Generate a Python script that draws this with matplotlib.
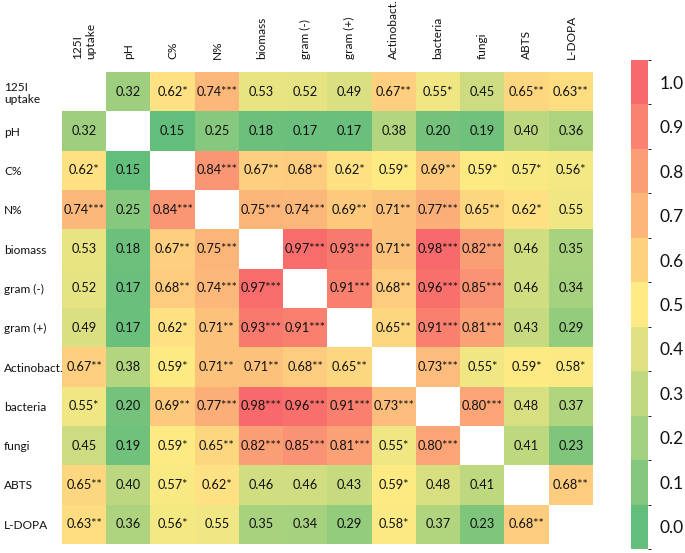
import numpy as np
import matplotlib
matplotlib.use("Agg")
import matplotlib.pyplot as plt
from matplotlib.colors import LinearSegmentedColormap, ListedColormap, BoundaryNorm, TwoSlopeNorm
from matplotlib.cm import ScalarMappable

plt.rcParams['font.family'] = ['Lato', 'DejaVu Sans']

labels = ["125I\nuptake", "pH", "C%", "N%", "biomass", "gram (-)", "gram (+)",
          "Actinobact.", "bacteria", "fungi", "ABTS", "L-DOPA"]

nan = np.nan
values = [
    [nan, .32, .62, .74, .53, .52, .49, .67, .55, .45, .65, .63],
    [.32, nan, .15, .25, .18, .17, .17, .38, .20, .19, .40, .36],
    [.62, .15, nan, .84, .67, .68, .62, .59, .69, .59, .57, .56],
    [.74, .25, .84, nan, .75, .74, .69, .71, .77, .65, .62, .55],
    [.53, .18, .67, .75, nan, .97, .93, .71, .98, .82, .46, .35],
    [.52, .17, .68, .74, .97, nan, .91, .68, .96, .85, .46, .34],
    [.49, .17, .62, .71, .93, .91, nan, .65, .91, .81, .43, .29],
    [.67, .38, .59, .71, .71, .68, .65, nan, .73, .55, .59, .58],
    [.55, .20, .69, .77, .98, .96, .91, .73, nan, .80, .48, .37],
    [.45, .19, .59, .65, .82, .85, .81, .55, .80, nan, .41, .23],
    [.65, .40, .57, .62, .46, .46, .43, .59, .48, .41, nan, .68],
    [.63, .36, .56, .55, .35, .34, .29, .58, .37, .23, .68, nan],
]

stars = [
    [0, 0, 1, 3, 0, 0, 0, 2, 1, 0, 2, 2],
    [0, 0, 0, 0, 0, 0, 0, 0, 0, 0, 0, 0],
    [1, 0, 0, 3, 2, 2, 1, 1, 2, 1, 1, 1],
    [3, 0, 3, 0, 3, 3, 2, 2, 3, 2, 1, 0],
    [0, 0, 2, 3, 0, 3, 3, 2, 3, 3, 0, 0],
    [0, 0, 2, 3, 3, 0, 3, 2, 3, 3, 0, 0],
    [0, 0, 1, 2, 3, 3, 0, 2, 3, 3, 0, 0],
    [2, 0, 1, 2, 2, 2, 2, 0, 3, 1, 1, 1],
    [1, 0, 2, 3, 3, 3, 3, 3, 0, 3, 0, 0],
    [0, 0, 1, 2, 3, 3, 3, 1, 3, 0, 0, 0],
    [2, 0, 1, 1, 0, 0, 0, 1, 0, 0, 0, 2],
    [2, 0, 1, 0, 0, 0, 0, 1, 0, 0, 2, 0],
]

cbar_ticks = [0.0, 0.1, 0.2, 0.3, 0.4, 0.5, 0.6, 0.7, 0.8, 0.9, 1.0]

GREEN, YELLOW, RED = "#63BE7B", "#FFEB84", "#F8696B"
cmap = LinearSegmentedColormap.from_list("excel", [GREEN, YELLOW, RED])
cmap.set_bad("white")

V = np.array(values, dtype=float)
vmin, vmax = np.nanmin(V), np.nanmax(V)
vmid = np.nanpercentile(V, 50)
norm = TwoSlopeNorm(vmin=vmin, vcenter=vmid, vmax=vmax)

W, H = 685, 553
fig = plt.figure(figsize=(W / 100, H / 100), dpi=100)
L, R, T, B = 62, 593, 72, 544
ax = fig.add_axes([L / W, 1 - B / H, (R - L) / W, (B - T) / H])
ax.imshow(np.ma.masked_invalid(V), cmap=cmap, norm=norm, aspect='auto',
          interpolation='nearest')
n = len(labels)
for i in range(n):
    for j in range(n):
        if np.isnan(V[i, j]):
            continue
        ax.text(j, i, f"{V[i, j]:.2f}" + "*" * stars[i][j], ha='center', va='center',
                fontsize=9.2, color='#111111')

for s in ax.spines.values():
    s.set_visible(False)
ax.set_xticks(range(n))
ax.set_yticks(range(n))
ax.xaxis.tick_top()
ax.set_xticklabels(labels, rotation=90, ha='center', va='bottom', fontsize=8.6,
                   multialignment='left', color='#111111')
ax.set_yticklabels(labels, ha='left', fontsize=8.6, multialignment='left',
                   color='#111111')
ax.tick_params(axis='x', length=0, pad=13 * 0.72)
ax.tick_params(axis='y', length=0, pad=(L - 4) * 0.72)

# colorbar
cL, cR, cT, cB = 631, 648, 60, 549
cax = fig.add_axes([cL / W, 1 - cB / H, (cR - cL) / W, (cB - cT) / H])
excel_scale = LinearSegmentedColormap.from_list("excel01", [GREEN, YELLOW, RED])
disc = ListedColormap([excel_scale(t) for t in cbar_ticks])
bounds = np.concatenate([[cbar_ticks[0] - 0.05], np.array(cbar_ticks) + 0.05])
bnorm = BoundaryNorm(bounds, disc.N)
sm = ScalarMappable(norm=bnorm, cmap=disc)
cb = fig.colorbar(sm, cax=cax, ticks=cbar_ticks)
cb.outline.set_visible(False)
cb.ax.set_yticklabels([f"{t:.1f}" for t in cbar_ticks])
cb.ax.tick_params(length=0, pad=12 * 0.72, labelsize=12.5, labelcolor='#111111')

fig.savefig("out.png", dpi=100)
